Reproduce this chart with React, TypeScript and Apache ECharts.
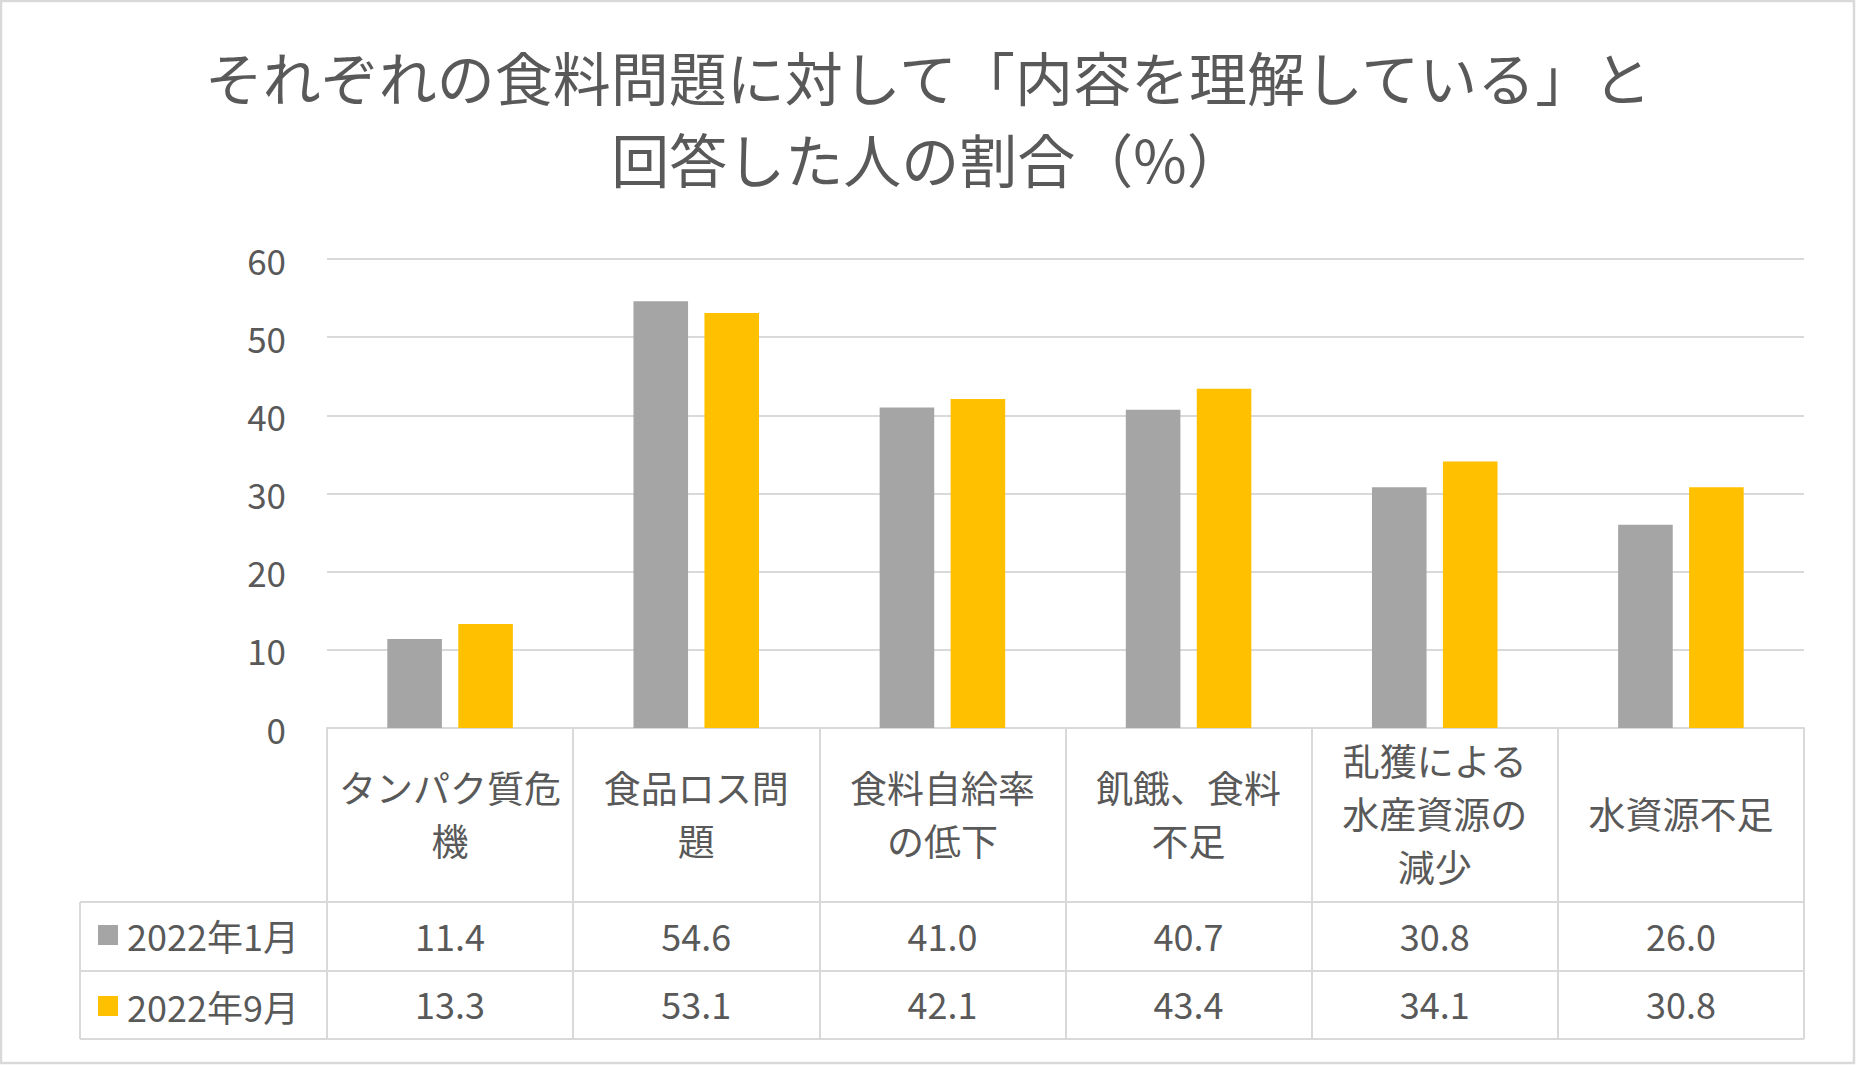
import React, { useEffect, useRef } from 'react'
import * as echarts from 'echarts'

const categories = [
  'タンパク質危\n機',
  '食品ロス問\n題',
  '食料自給率\nの低下',
  '飢餓、食料\n不足',
  '乱獲による\n水産資源の\n減少',
  '水資源不足',
]
const seriesNames = ['2022年1月', '2022年9月']
const jan2022 = [11.4, 54.6, 41.0, 40.7, 30.8, 26.0]
const sep2022 = [13.3, 53.1, 42.1, 43.4, 34.1, 30.8]
const colors = ['#A5A5A5', '#FFC000']
const yTicks = { min: 0, max: 60, interval: 10 }

const FONT = '"Noto Sans CJK JP", "Noto Sans", sans-serif'
const TEXT = '#595959'
const LINE = '#D9D9D9'

// layout (px in the 1856x1065 canvas)
const GRID_LEFT = 327
const GRID_RIGHT = 1804
const GRID_TOP = 259
const AXIS_Y = 728
const ROW_LINES = [902, 971, 1039]
const TABLE_LEFT = 80

const App: React.FC = () => {
  const chartRef = useRef<HTMLDivElement>(null)

  useEffect(() => {
    if (!chartRef.current) return
    document.body.style.margin = '0'
    const chart = echarts.init(chartRef.current, undefined, { renderer: 'svg' })

    // value text inside the table rows, placed from the category scale
    const tableRow = (values: number[], offset: number, z: number) => ({
      type: 'custom' as const,
      silent: true,
      clip: false,
      z,
      data: values.map((v, i) => [i, v]),
      renderItem: (_params: any, api: any) => {
        const idx = api.value(0)
        const p = api.coord([idx, 0])
        return {
          type: 'text',
          x: p[0],
          y: p[1] + offset,
          style: {
            text: Number(api.value(1)).toFixed(1),
            fill: TEXT,
            fontSize: 36,
            fontFamily: FONT,
            align: 'center',
            verticalAlign: 'middle',
          },
        }
      },
    })

    const hLine = (y: number, x1: number) => ({
      type: 'line',
      silent: true,
      shape: { x1, y1: y, x2: GRID_RIGHT, y2: y },
      style: { stroke: LINE, lineWidth: 2 },
    })

    const option: echarts.EChartsOption = {
      animation: false,
      backgroundColor: '#ffffff',
      textStyle: { fontFamily: FONT },
      title: {
        text: 'それぞれの食料問題に対して「内容を理解している」と\n回答した人の割合（%）',
        left: 'center',
        top: 30,
        textStyle: {
          color: TEXT,
          fontSize: 58,
          lineHeight: 82,
          fontWeight: 'normal',
          fontFamily: FONT,
        },
      },
      legend: {
        data: seriesNames,
        orient: 'vertical',
        left: 93,
        top: 912,
        itemWidth: 20,
        itemHeight: 20,
        itemGap: 35,
        icon: 'rect',
        selectedMode: false,
        textStyle: { color: TEXT, fontSize: 36, lineHeight: 34, fontFamily: FONT, padding: [0, 0, 0, 4] },
      },
      grid: {
        left: GRID_LEFT,
        right: 1856 - GRID_RIGHT,
        top: GRID_TOP,
        height: AXIS_Y - GRID_TOP,
        containLabel: false,
      },
      xAxis: {
        type: 'category',
        data: categories,
        axisLine: { show: true, lineStyle: { color: LINE, width: 2 } },
        axisTick: {
          show: true,
          interval: 0,
          length: ROW_LINES[2] - AXIS_Y,
          lineStyle: { color: LINE, width: 2 },
        },
        axisLabel: {
          interval: 0,
          color: TEXT,
          fontSize: 37,
          lineHeight: 53,
          fontFamily: FONT,
          margin: (ROW_LINES[0] - AXIS_Y) / 2 - 2,
          verticalAlign: 'middle',
        },
      },
      yAxis: {
        type: 'value',
        min: yTicks.min,
        max: yTicks.max,
        interval: yTicks.interval,
        axisLine: { show: false },
        axisTick: { show: false },
        axisLabel: { color: TEXT, fontSize: 35, fontFamily: FONT, margin: 41, padding: [0, 0, 4, 0] },
        splitLine: { lineStyle: { color: LINE, width: 2 } },
      },
      graphic: [
        {
          type: 'rect',
          silent: true,
          shape: { x: 1, y: 1, width: 1853, height: 1062 },
          style: { fill: 'none', stroke: LINE, lineWidth: 2.5 },
        },
        hLine(ROW_LINES[0], TABLE_LEFT),
        hLine(ROW_LINES[1], TABLE_LEFT),
        hLine(ROW_LINES[2], TABLE_LEFT),
        {
          type: 'line',
          silent: true,
          shape: { x1: TABLE_LEFT, y1: ROW_LINES[0], x2: TABLE_LEFT, y2: ROW_LINES[2] },
          style: { stroke: LINE, lineWidth: 2 },
        },
      ],
      series: [
        {
          name: seriesNames[0],
          type: 'bar',
          data: jan2022,
          itemStyle: { color: colors[0] },
          barGap: '30%',
          barCategoryGap: '49%',
        },
        {
          name: seriesNames[1],
          type: 'bar',
          data: sep2022,
          itemStyle: { color: colors[1] },
          barGap: '30%',
          barCategoryGap: '49%',
        },
        tableRow(jan2022, (ROW_LINES[0] + ROW_LINES[1]) / 2 - AXIS_Y - 2, 5),
        tableRow(sep2022, (ROW_LINES[1] + ROW_LINES[2]) / 2 - AXIS_Y - 2, 5),
      ],
    }

    chart.setOption(option)

    return () => {
      chart.dispose()
    }
  }, [])

  return (
    <div
      ref={chartRef}
      style={{ position: 'absolute', left: 0, top: 0, width: '1856px', height: '1065px' }}
    />
  )
}

export default App
